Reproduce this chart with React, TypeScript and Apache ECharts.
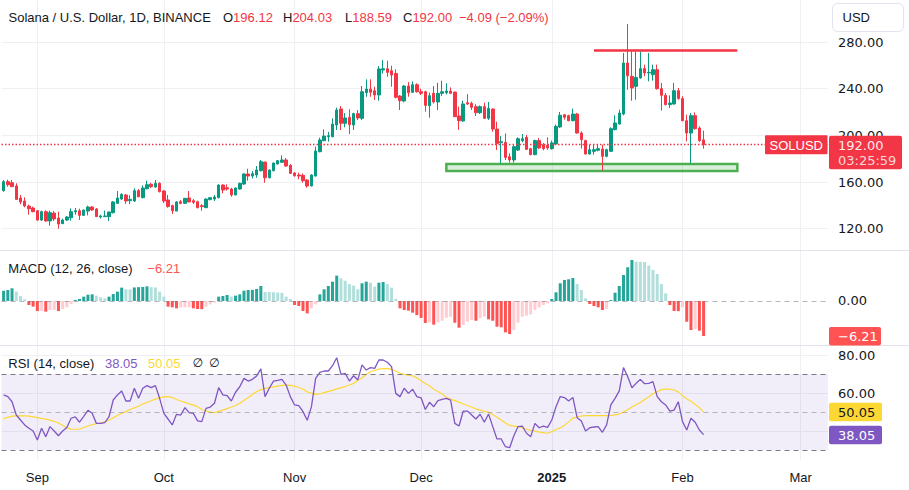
import React, { useEffect, useRef } from 'react';
import * as echarts from 'echarts';

// ---------- data ----------
const START_DATE = Date.UTC(2024, 7, 24); // first category: 2024-08-24
const AXIS_DAYS = 196; // categories through 2025-03-06
const TICK_DATES = ['2024-09-01', '2024-10-01', '2024-11-01', '2024-12-01', '2025-01-01', '2025-02-01', '2025-03-01'];
const TICK_LABELS = ['Sep', 'Oct', 'Nov', 'Dec', '2025', 'Feb', 'Mar'];
const PRICE_TICKS = [120, 160, 200, 240, 280];
const RSI_TICKS = [40, 60, 80];

// [open, close, low, high]
const CANDLES: number[][] = [
  [152.6, 160.3, 151.7, 161.7], [160.3, 157.7, 156.0, 162.0], [159.4, 156.0, 155.7, 161.7], [156.6, 145.1, 144.6, 158.9],
  [146.3, 142.9, 140.9, 148.9], [143.7, 139.4, 138.3, 146.9], [139.4, 137.1, 132.0, 140.6], [137.7, 134.6, 134.0, 138.9],
  [135.4, 127.4, 126.9, 136.0], [127.4, 134.6, 126.6, 135.4], [134.6, 126.6, 126.0, 135.7], [126.6, 133.7, 122.6, 135.4],
  [133.4, 128.3, 126.6, 135.1], [129.1, 124.0, 120.0, 134.6], [124.3, 127.4, 124.0, 128.6], [127.4, 130.0, 126.6, 130.9],
  [129.4, 134.6, 126.9, 137.4], [134.3, 135.4, 132.0, 137.7], [135.4, 131.4, 127.4, 137.1], [131.4, 136.0, 131.1, 136.3],
  [135.1, 138.6, 131.4, 139.7], [138.6, 136.0, 135.4, 139.4], [136.9, 130.3, 130.0, 137.7], [130.0, 130.9, 128.6, 132.0],
  [130.3, 130.9, 130.0, 135.4], [130.3, 134.3, 126.6, 134.6], [133.7, 142.9, 133.1, 143.7], [141.7, 146.3, 141.1, 152.3],
  [145.4, 149.4, 144.6, 150.3], [148.9, 143.7, 141.1, 149.7], [144.0, 145.1, 141.1, 148.6], [143.7, 152.6, 142.9, 154.6],
  [152.6, 147.4, 146.9, 154.0], [146.6, 154.9, 146.0, 157.1], [154.3, 157.7, 153.7, 161.1], [158.0, 156.0, 154.9, 159.4],
  [155.7, 158.9, 155.1, 161.7], [158.9, 151.7, 151.1, 159.7], [152.3, 143.7, 142.0, 153.1], [144.6, 138.9, 138.0, 148.9],
  [139.7, 135.4, 132.6, 140.6], [135.1, 142.9, 135.1, 143.7], [143.1, 141.7, 140.9, 144.6], [141.7, 146.0, 141.4, 146.3],
  [146.3, 142.9, 142.6, 152.3], [144.0, 142.6, 141.1, 145.4], [143.1, 138.0, 137.4, 144.0], [139.7, 138.9, 135.4, 141.1],
  [138.0, 145.4, 137.7, 146.0], [144.9, 146.6, 144.3, 146.9], [145.4, 147.1, 143.7, 148.9], [146.6, 157.4, 146.0, 158.0],
  [157.4, 153.1, 150.3, 158.0], [155.1, 154.0, 152.6, 158.0], [154.0, 148.9, 147.4, 155.1], [148.9, 154.9, 148.6, 155.2],
  [154.0, 158.9, 153.4, 159.4], [158.3, 166.9, 157.4, 167.4], [166.9, 165.1, 161.1, 171.4], [165.1, 167.1, 163.1, 169.4],
  [166.0, 170.3, 163.7, 173.7], [169.7, 177.4, 169.1, 178.9], [177.1, 163.7, 159.4, 177.4], [163.7, 170.3, 163.1, 170.9],
  [169.7, 176.3, 169.1, 176.6], [175.4, 178.3, 175.1, 178.9], [176.9, 178.9, 176.3, 182.9], [178.9, 173.7, 173.1, 180.6],
  [174.3, 167.4, 166.9, 175.4], [167.7, 165.4, 164.6, 168.6], [166.0, 165.1, 162.3, 168.0], [165.7, 161.1, 159.4, 167.4],
  [161.7, 156.6, 155.1, 162.3], [156.6, 166.0, 156.3, 166.6], [165.1, 186.6, 164.8, 190.3], [186.0, 196.0, 185.4, 198.0],
  [195.4, 199.4, 195.1, 205.1], [198.9, 199.7, 194.6, 202.9], [198.9, 209.7, 198.3, 214.6], [208.9, 221.7, 204.6, 223.7],
  [222.6, 210.3, 204.6, 225.1], [210.3, 214.9, 206.9, 219.1], [215.4, 209.1, 201.1, 222.3], [208.9, 218.6, 204.6, 219.4],
  [218.6, 214.9, 213.1, 221.7], [214.6, 237.4, 213.1, 242.3], [236.6, 239.7, 233.1, 248.0], [239.7, 236.9, 233.1, 248.0],
  [238.3, 234.6, 230.3, 241.7], [234.6, 256.9, 229.7, 259.4], [256.0, 257.1, 253.1, 264.6], [257.1, 254.0, 250.3, 264.0],
  [255.4, 251.7, 241.7, 259.7], [253.1, 232.6, 231.7, 256.6], [233.7, 229.7, 221.7, 234.6], [229.4, 242.3, 228.3, 243.1],
  [242.3, 236.6, 233.1, 245.7], [236.9, 243.4, 236.6, 246.3], [243.4, 237.4, 236.6, 244.6], [237.4, 236.0, 234.6, 240.0],
  [237.4, 225.7, 220.3, 238.3], [225.4, 234.0, 215.1, 236.6], [236.0, 228.6, 227.4, 242.3], [228.6, 236.0, 221.7, 245.1],
  [236.0, 237.4, 233.7, 246.9], [236.6, 238.0, 235.1, 244.6], [238.0, 236.0, 235.4, 241.1], [237.1, 216.0, 215.7, 237.4],
  [216.6, 212.6, 204.6, 224.6], [212.3, 226.9, 211.7, 229.7], [228.0, 226.9, 226.0, 235.4], [227.4, 224.0, 221.7, 228.9],
  [224.6, 219.4, 216.6, 226.6], [219.4, 224.6, 218.3, 225.7], [224.6, 214.6, 214.0, 228.0], [214.6, 223.1, 213.1, 228.6],
  [222.6, 205.4, 203.1, 223.1], [205.4, 193.1, 187.4, 211.7], [193.7, 194.6, 176.0, 199.4], [194.0, 181.1, 178.9, 201.7],
  [181.7, 178.9, 176.6, 184.6], [178.9, 190.3, 176.6, 192.6], [187.4, 197.1, 186.6, 198.3], [195.4, 197.1, 194.0, 201.1],
  [198.3, 188.0, 187.4, 200.3], [188.6, 183.5, 182.9, 189.2], [183.5, 195.5, 182.9, 196.3], [195.5, 189.2, 188.3, 197.7],
  [192.0, 188.6, 187.2, 193.5], [191.5, 189.2, 187.7, 198.3], [188.6, 193.5, 187.7, 195.5], [192.6, 207.7, 192.0, 209.2],
  [207.2, 217.2, 206.3, 220.0], [217.7, 215.5, 213.5, 218.3], [216.9, 212.6, 212.0, 217.7], [212.6, 218.3, 212.0, 222.9],
  [218.3, 202.0, 201.5, 219.2], [202.0, 196.3, 188.6, 203.5], [195.5, 184.0, 183.5, 196.3], [184.0, 187.7, 183.5, 192.0],
  [186.3, 187.7, 183.5, 192.0], [187.2, 188.6, 186.3, 192.0], [188.3, 182.0, 169.8, 192.0], [182.0, 187.7, 181.2, 188.6],
  [186.3, 205.7, 185.7, 206.9], [204.9, 210.6, 204.3, 217.2], [209.7, 219.2, 209.2, 222.0], [218.3, 262.0, 217.2, 270.6],
  [262.0, 251.0, 239.0, 295.5], [250.6, 240.6, 229.7, 272.0], [242.0, 249.7, 230.6, 272.0], [249.2, 257.2, 248.6, 272.0],
  [257.2, 253.5, 250.6, 260.6], [253.5, 254.0, 246.3, 270.6], [252.0, 256.3, 246.9, 260.6], [256.3, 240.0, 239.2, 260.6],
  [240.0, 234.3, 221.2, 244.9], [234.3, 226.3, 225.7, 236.3], [226.3, 227.7, 223.5, 234.3], [226.9, 238.3, 226.3, 244.9],
  [238.3, 231.5, 230.6, 240.6], [231.5, 212.6, 212.0, 233.5], [212.6, 202.0, 194.9, 217.7], [202.0, 216.9, 175.7, 219.2],
  [216.9, 205.7, 204.9, 219.7], [206.3, 195.5, 194.3, 207.7], [196.12, 192.0, 188.59, 204.03],
];

const MACD_HIST = [
  1.83, 1.95, 2.25, 1.66, 0.89, 0.3, -0.71, -1.0, -1.78, -1.75,
  -1.89, -1.6, -1.55, -1.78, -1.42, -1.12, -0.53, 0.18, 0.36, 0.77,
  1.12, 1.18, 0.95, 0.65, 0.47, 0.77, 1.24, 1.66, 2.37, 2.07,
  2.05, 2.4, 2.45, 2.5, 2.6, 2.45, 2.4, 1.66, 0.77, -1.0,
  -1.12, -1.3, -1.18, -1.12, -1.1, -1.3, -1.42, -1.45, -1.0, -0.6,
  -0.3, 0.77, 0.89, 1.07, 0.77, 0.95, 1.18, 1.83, 1.95, 1.98,
  2.13, 2.66, 1.6, 1.58, 1.55, 1.5, 1.45, 0.77, 0.36, -0.71,
  -0.89, -1.78, -2.19, -1.3, -0.6, 1.18, 2.07, 2.66, 3.43, 4.5,
  4.02, 3.6, 3.0, 2.72, 2.07, 3.14, 3.43, 3.25, 2.54, 3.25,
  3.37, 3.0, 2.37, 0.36, -1.3, -1.6, -1.72, -2.07, -2.5, -3.0,
  -3.9, -3.8, -4.2, -3.8, -3.5, -3.0, -2.8, -3.85, -4.73, -4.26,
  -3.67, -3.37, -3.5, -3.08, -2.78, -3.25, -3.5, -4.56, -4.67, -5.56,
  -5.86, -5.15, -3.85, -2.78, -2.6, -2.37, -1.6, -1.12, -0.71, -0.41,
  0.36, 1.54, 3.14, 3.73, 3.85, 4.08, 3.02, 1.95, 0.47, -0.53,
  -0.89, -1.12, -1.6, -1.42, 0.18, 1.48, 2.66, 4.6, 5.98, 7.28,
  6.98, 6.95, 6.9, 6.27, 5.5, 4.79, 3.02, 1.36, -0.71, -1.78,
  -1.8, -1.12, -3.67, -5.15, -4.97, -5.27, -6.21,
];

const RSI = [
  59, 58.1, 55.4, 48.4, 45.8, 43.2, 41.4, 40, 35.2, 41.4,
  37, 42.3, 40, 37.5, 40, 41.8, 46.7, 47.4, 44.6, 47.7,
  50.9, 49.3, 44, 44, 44.4, 47.5, 56.3, 59, 61.1, 55.8,
  55.8, 62.5, 57.2, 62.5, 63.9, 62.8, 63.9, 57.2, 49.3, 46.3,
  43.2, 48.8, 48.4, 52.3, 49.7, 49.3, 45.3, 44.9, 51.9, 52.6,
  54.6, 62.8, 59, 58.6, 55.8, 60.4, 63.3, 67.7, 66.3, 67.2,
  69, 72.7, 58.1, 62.5, 66.3, 66.7, 67.2, 64.2, 58.1, 53.7,
  53.3, 50.2, 45.6, 52.8, 67.7, 70.9, 71.6, 71.6, 74.4, 78.6,
  69.8, 70.4, 66.3, 69.1, 66.9, 74.8, 72.1, 73.4, 73, 77.4,
  77.4, 76.2, 73.9, 59.8, 58.1, 62.5, 59.8, 62, 58.1, 57.5,
  51.3, 55.1, 52.8, 56, 56.7, 57.2, 56.3, 44, 42.6, 50.5,
  50.5, 48.4, 46.3, 48.8, 44.6, 48.9, 42.3, 35.8, 35.8, 31.7,
  31.2, 37.5, 42.3, 42.6, 38.8, 37, 44, 41.7, 42.6, 41.9,
  45.8, 52.8, 58.1, 57.6, 55.8, 57.7, 47, 45.3, 40, 41.7,
  42.1, 42.3, 39.3, 43.2, 53.7, 57.2, 61.1, 73.4, 68.6, 62.8,
  65.1, 67.2, 64.9, 65.1, 66, 58.1, 55.4, 53.7, 50.5, 51,
  55.4, 44.9, 40.5, 46.7, 44.6, 40.5, 38.05,
];

const RSI_MA = [
  46.5, 47.2, 47.8, 48, 48, 47.9, 47.8, 47.4, 47, 46.6,
  46.2, 45.7, 45.1, 44.2, 43, 41.6, 41, 40.9, 41, 41.8,
  42.6, 43.3, 43.8, 44.2, 44.8, 45.8, 46.9, 48.2, 49.3, 50.2,
  51.3, 52.2, 53, 54.3, 55, 55.9, 56.8, 57.5, 58, 58.1,
  57.6, 56.6, 55.8, 55.1, 54.3, 53.6, 52.8, 51.3, 50.5, 49.9,
  49.6, 50.3, 51, 51.8, 52.6, 53.4, 54.6, 56, 57.6, 59.2,
  60.8, 61.8, 62.4, 62.8, 63.2, 63.6, 64, 64.2, 64, 63.6,
  62.9, 62, 60.6, 59.9, 59.3, 59.5, 60.2, 60.9, 61.4, 62.2,
  62.7, 63.4, 64.2, 65.1, 66.6, 68, 69.8, 71.2, 72, 72.6,
  72.9, 73, 72.5, 71.6, 70.4, 69.8, 69.4, 69, 68, 66.5,
  65, 63.8, 62, 60.8, 59.5, 57.8, 56.8, 56, 55.2, 54.2,
  53.4, 52.6, 51.6, 51, 50.4, 49.8, 48.5, 47.2, 45.8, 44.2,
  42.9, 42.6, 42.3, 41.7, 40.9, 40.3, 39.9, 39.4, 39.1, 38.8,
  39.6, 40.8, 41.6, 43, 44.8, 46.8, 47.4, 47.9, 48.1, 48.1,
  48.1, 48.1, 48.1, 48.1, 48.2, 48.5, 48.9, 50, 51.2, 52.6,
  53.8, 55, 56.6, 58, 59.6, 60.6, 61.8, 62, 62, 61.6,
  60.6, 58.6, 57, 55.6, 54, 52.2, 50.05,
];

const LAST = { open: '196.12', high: '204.03', low: '188.59', close: 192.0, change: '−4.09 (−2.09%)', timer: '03:25:59' };
const RESISTANCE = { start: '2025-01-11', end: '2025-02-14', price: 272.6 };
const SUPPORT = { start: '2024-12-07', end: '2025-02-14', top: 175.5, bottom: 169.5 };

// ---------- styles ----------
const UP = '#089981';
const DOWN = '#f23645';
const TEXT = '#131722';
const GRID = '#eef0f3';
const PURPLE = '#7e57c2';
const YELLOW = '#fdd835';
const SANS = '"Liberation Sans", Arial, sans-serif';
const NUM = '"DejaVu Sans", sans-serif';

const DATES = Array.from({ length: AXIS_DAYS }, (_, i) =>
  new Date(START_DATE + i * 86400000).toISOString().slice(0, 10)
);

const LEFT = 1.5;
const WIDTH = 826.5;
const STEP = WIDTH / AXIS_DAYS;

function macdColor(v: number, i: number) {
  const prev = i > 0 ? MACD_HIST[i - 1] : v;
  if (v >= 0) return v >= prev ? '#26a69a' : '#b2dfdb';
  return v < prev ? '#ff5252' : '#ffcdd2';
}

const isTick = (_i: number, v: string) => TICK_DATES.indexOf(v) >= 0;

function buildOption(): any {
  const hiddenX = (g: number) => ({ type: 'category', gridIndex: g, data: DATES, boundaryGap: true, show: false });
  return {
    animation: false,
    backgroundColor: '#ffffff',
    grid: [
      { left: LEFT, width: WIDTH, top: 18.7, height: 233.3 },
      { left: LEFT, width: WIDTH, top: 250, height: 95 },
      { left: LEFT, width: WIDTH, top: 345, height: 115 },
      { left: LEFT + STEP / 2, width: WIDTH - STEP, top: 0, height: 460 },
    ],
    xAxis: [
      hiddenX(0),
      hiddenX(1),
      hiddenX(2),
      {
        type: 'category', gridIndex: 3, data: DATES, boundaryGap: false,
        axisLine: { show: false }, axisTick: { show: false },
        splitLine: { show: true, interval: isTick, lineStyle: { color: GRID, width: 1 } },
        axisLabel: {
          interval: isTick, margin: 11, color: TEXT, fontSize: 13, fontFamily: SANS,
          formatter: (v: string) => {
            const k = TICK_DATES.indexOf(v);
            if (k < 0) return '';
            const t = TICK_LABELS[k];
            return /^\d{4}$/.test(t) ? '{b|' + t + '}' : t;
          },
          rich: { b: { fontWeight: 'bold', fontSize: 13, fontFamily: SANS, color: TEXT } },
        },
      },
    ],
    yAxis: [
      {
        type: 'value', gridIndex: 0, position: 'right', min: 100, max: 300, interval: 20,
        axisLine: { show: false }, axisTick: { show: false },
        axisLabel: {
          margin: 10, color: TEXT, fontSize: 13, fontFamily: NUM,
          formatter: (v: number) => (PRICE_TICKS.indexOf(v) >= 0 ? v.toFixed(2) : ''),
        },
        splitLine: { show: true, lineStyle: { color: ['transparent', GRID] } },
      },
      {
        type: 'value', gridIndex: 1, position: 'right', min: -7.8, max: 9.04, splitNumber: 3,
        axisLine: { show: false }, axisTick: { show: false }, splitLine: { show: false },
        axisLabel: {
          margin: 10, color: TEXT, fontSize: 13, fontFamily: NUM, showMinLabel: false, showMaxLabel: false,
          formatter: (v: number) => (v === 0 ? '0.00' : ''),
        },
      },
      {
        type: 'value', gridIndex: 2, position: 'right', min: 24.7, max: 85.3, splitNumber: 3,
        axisLine: { show: false }, axisTick: { show: false },
        splitLine: { show: true, showMinLine: false, showMaxLine: false, lineStyle: { color: GRID } },
        axisLabel: {
          margin: 10, color: TEXT, fontSize: 13, fontFamily: NUM, showMinLabel: false, showMaxLabel: false,
          formatter: (v: number) => (RSI_TICKS.indexOf(v) >= 0 ? v.toFixed(2) : ''),
        },
      },
      { type: 'value', gridIndex: 3, min: 0, max: 1, show: false },
    ],
    series: [
      {
        type: 'candlestick', xAxisIndex: 0, yAxisIndex: 0, data: CANDLES, barWidth: 3,
        itemStyle: { color: UP, color0: DOWN, borderColor: UP, borderColor0: DOWN, borderWidth: 1 },
        markArea: {
          silent: true,
          data: [[
            { coord: [SUPPORT.start, SUPPORT.top] },
            { coord: [SUPPORT.end, SUPPORT.bottom] },
          ]],
          itemStyle: { color: 'rgba(76,175,80,0.2)', borderColor: '#4caf50', borderWidth: 2.5 },
        },
        markLine: {
          silent: true, symbol: ['none', 'none'], animation: false,
          label: { show: false },
          data: [
            { yAxis: LAST.close, lineStyle: { type: [1.5, 2], color: DOWN, width: 1.3 } },
            [
              { coord: [RESISTANCE.start, RESISTANCE.price], lineStyle: { type: 'solid', color: DOWN, width: 2.5 } },
              { coord: [RESISTANCE.end, RESISTANCE.price], lineStyle: { type: 'solid', color: DOWN, width: 2.5 } },
            ],
          ],
        },
      },
      {
        type: 'bar', xAxisIndex: 1, yAxisIndex: 1, barWidth: 3,
        data: MACD_HIST.map((v, i) => ({ value: v, itemStyle: { color: macdColor(v, i) } })),
        markLine: {
          silent: true, symbol: ['none', 'none'], label: { show: false },
          data: [{ yAxis: 0 }],
          lineStyle: { type: [5, 4], color: 'rgba(120,123,134,0.55)', width: 1 },
        },
      },
      {
        type: 'line', xAxisIndex: 2, yAxisIndex: 2, data: RSI_MA, symbol: 'none',
        lineStyle: { color: YELLOW, width: 1.2 }, itemStyle: { color: YELLOW },
        markArea: {
          silent: true,
          data: [[{ yAxis: 70 }, { yAxis: 30 }]],
          itemStyle: { color: 'rgba(126,87,194,0.1)' },
        },
        markLine: {
          silent: true, symbol: ['none', 'none'], label: { show: false },
          data: [
            { yAxis: 70, lineStyle: { type: [5, 4], color: '#787b86', width: 1 } },
            { yAxis: 50, lineStyle: { type: [5, 4], color: 'rgba(120,123,134,0.5)', width: 1 } },
            { yAxis: 30, lineStyle: { type: [5, 4], color: '#787b86', width: 1 } },
          ],
        },
      },
      {
        type: 'line', xAxisIndex: 2, yAxisIndex: 2, data: RSI, symbol: 'none',
        lineStyle: { color: PURPLE, width: 1.3 }, itemStyle: { color: PURPLE },
      },
    ],
  };
}

function txt(x: number, y: number, text: string, fill: string, extra: any = {}) {
  return {
    type: 'text', x, y, z: 100, silent: true,
    style: { text, fill, fontSize: 13, fontFamily: SANS, verticalAlign: 'middle', align: 'left', ...extra },
  };
}

function box(x: number, y: number, w: number, h: number, fill: string, r = 2) {
  return { type: 'rect', z: 99, silent: true, shape: { x, y, width: w, height: h, r }, style: { fill } };
}

export default function App() {
  const ref = useRef<HTMLDivElement>(null);
  useEffect(() => {
    document.body.style.margin = '0';
    const chart = echarts.init(ref.current as HTMLDivElement, null, { renderer: 'svg' });
    chart.setOption(buildOption());

    const lastMacd = MACD_HIST[MACD_HIST.length - 1];
    const lastRsi = RSI[RSI.length - 1];
    const lastMa = RSI_MA[RSI_MA.length - 1];
    const yP = chart.convertToPixel({ yAxisIndex: 0 }, LAST.close) as number;
    const yM = chart.convertToPixel({ yAxisIndex: 1 }, lastMacd) as number;
    const yR = chart.convertToPixel({ yAxisIndex: 2 }, lastRsi) as number;
    const yA = chart.convertToPixel({ yAxisIndex: 2 }, lastMa) as number;
    const fmt = (v: number) => (v < 0 ? '−' : '') + Math.abs(v).toFixed(2);

    const hy = 17.5;
    const rich = { k: { fill: TEXT, fontSize: 13, fontFamily: SANS }, v: { fill: DOWN, fontSize: 13, fontFamily: SANS } };
    const elements: any[] = [
      // pane separators
      { type: 'line', z: 98, silent: true, shape: { x1: 0, y1: 250.5, x2: 909, y2: 250.5 }, style: { stroke: '#e0e3eb', lineWidth: 1 } },
      { type: 'line', z: 98, silent: true, shape: { x1: 0, y1: 345.5, x2: 909, y2: 345.5 }, style: { stroke: '#e0e3eb', lineWidth: 1 } },
      // header
      txt(8.5, hy, 'Solana / U.S. Dollar, 1D, BINANCE', TEXT),
      txt(223, hy, '{k|O}{v|' + LAST.open + '}', TEXT, { rich }),
      txt(283, hy, '{k|H}{v|' + LAST.high + '}', TEXT, { rich }),
      txt(345, hy, '{k|L}{v|' + LAST.low + '}', TEXT, { rich }),
      txt(403, hy, '{k|C}{v|' + LAST.close.toFixed(2) + '}', TEXT, { rich }),
      txt(459, hy, LAST.change, DOWN),
      // USD button
      { type: 'rect', z: 99, silent: true, shape: { x: 832.5, y: 3.5, width: 71, height: 28, r: 5 }, style: { fill: '#ffffff', stroke: '#e0e3eb', lineWidth: 1 } },
      txt(842.5, 17.5, 'USD', TEXT),
      // MACD legend
      txt(8.3, 268.8, 'MACD (12, 26, close)', TEXT),
      txt(147.3, 268.8, fmt(lastMacd), '#ff5252'),
      // RSI legend
      txt(8.3, 363.3, 'RSI (14, close)', TEXT),
      txt(105, 363.3, lastRsi.toFixed(2), PURPLE),
      txt(148, 363.3, lastMa.toFixed(2), YELLOW),
      txt(192.5, 363.3, '∅', TEXT, { fontFamily: '"DejaVu Sans", sans-serif', fontSize: 12 }),
      txt(209, 363.3, '∅', TEXT, { fontFamily: '"DejaVu Sans", sans-serif', fontSize: 12 }),
      // symbol tag and price tag
      box(765, yP - 9.5, 62.5, 19, DOWN, 1),
      txt(796.25, yP + 0.5, 'SOLUSD', '#ffffff', { align: 'center' }),
      box(829, yP - 9, 73, 33.5, DOWN, 2),
      txt(838, yP + 1, LAST.close.toFixed(2), 'rgba(255,255,255,0.92)', { fontFamily: NUM }),
      txt(838, yP + 16, LAST.timer, 'rgba(255,255,255,0.8)', { fontFamily: NUM }),
      // MACD tag
      box(829, yM - 9, 52, 18.5, '#ff5252', 2),
      txt(838, yM + 0.5, fmt(lastMacd), '#ffffff', { fontFamily: NUM }),
      // RSI tags
      box(829, yA - 9.2, 53, 18.5, YELLOW, 2),
      txt(838, yA + 0.3, lastMa.toFixed(2), TEXT, { fontFamily: NUM }),
      box(829, yR - 9, 53, 18.5, PURPLE, 2),
      txt(838, yR + 0.5, lastRsi.toFixed(2), '#ffffff', { fontFamily: NUM }),
    ];
    chart.setOption({ graphic: { elements } });
    return () => chart.dispose();
  }, []);
  return <div ref={ref} style={{ width: 909, height: 490 }} />;
}
